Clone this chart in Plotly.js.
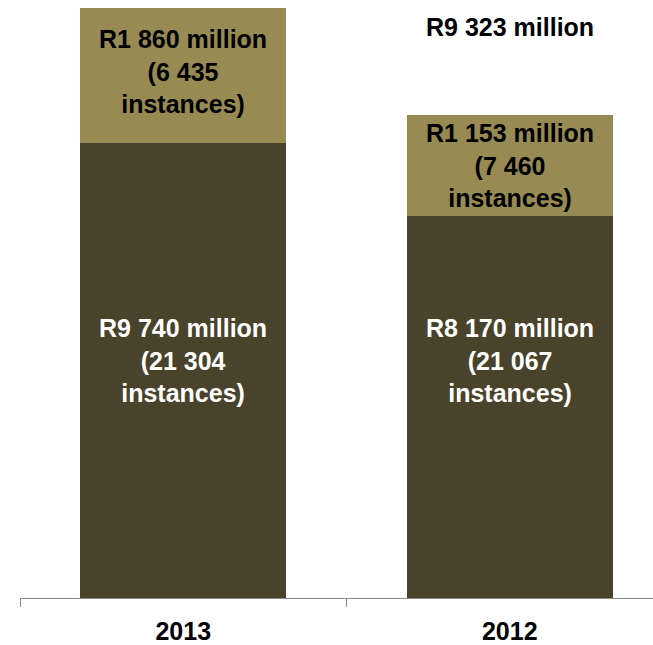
<!DOCTYPE html>
<html>
<head>
<meta charset="utf-8">
<script src="https://cdn.plot.ly/plotly-3.0.1.min.js"></script>
<style>
html,body{margin:0;padding:0;overflow:hidden;background:#fff;}
#chart{width:673px;height:645px;}
</style>
</head>
<body>
<div id="chart"></div>
<script>
// Categories (years)
var years = ['2013', '2012'];
// Bar segment heights as drawn in the picture
var lowerValues = [9740, 8170];
var upperValues = [2890, 2170];
// Labels
var lowerLabels = ['R9 740 million<br>(21 304<br>instances)', 'R8 170 million<br>(21 067<br>instances)'];
var upperLabels = ['R1 860 million<br>(6 435<br>instances)', 'R1 153 million<br>(7 460<br>instances)'];
var totalLabel = 'R9 323 million';
var totalLabelIndex = 1;

var FONT = '"Liberation Sans Narrow", "Arial Narrow", "Liberation Sans", Arial, sans-serif';
var darkColor = '#4A432B';
var lightColor = '#978B53';

var traces = [
  {type: 'bar', x: years, y: lowerValues, marker: {color: darkColor, line: {width: 0}}, hoverinfo: 'none'},
  {type: 'bar', x: years, y: upperValues, marker: {color: lightColor, line: {width: 0}}, hoverinfo: 'none'}
];

var annotations = [];
for (var i = 0; i < years.length; i++) {
  annotations.push({
    x: i, y: 5080, xref: 'x', yref: 'y', text: '<b>' + lowerLabels[i] + '</b>',
    showarrow: false, font: {family: FONT, size: 25, color: '#ffffff'}, align: 'center'
  });
  annotations.push({
    x: i, y: lowerValues[i] + upperValues[i] / 2, xref: 'x', yref: 'y', text: '<b>' + upperLabels[i] + '</b>',
    showarrow: false, font: {family: FONT, size: 25, color: '#000000'}, align: 'center',
    yshift: i === 0 ? 4 : 0
  });
}
annotations.push({
  x: totalLabelIndex, y: 12220, xref: 'x', yref: 'y', text: '<b>' + totalLabel + '</b>',
  showarrow: false, font: {family: FONT, size: 25, color: '#000000'}, align: 'center'
});

var layout = {
  width: 673, height: 645,
  margin: {l: 20, r: 0, t: 8, b: 47},
  barmode: 'stack',
  bargap: 0.37,
  showlegend: false,
  paper_bgcolor: '#ffffff',
  plot_bgcolor: '#ffffff',
  font: {family: FONT},
  xaxis: {
    type: 'category', range: [-0.5, 1.5], autorange: false,
    showline: true, linecolor: '#8c8c8c', linewidth: 1,
    ticks: 'outside', tickson: 'boundaries', ticklen: 8, tickcolor: '#8c8c8c', tickwidth: 1,
    showgrid: false, zeroline: false,
    tickfont: {family: FONT, size: 25, color: '#000000', weight: 'bold'},
    ticklabelstandoff: 11
  },
  yaxis: {
    range: [0, 12630], autorange: false, visible: false, showgrid: false, zeroline: false
  },
  annotations: annotations
};

Plotly.newPlot('chart', traces, layout, {displayModeBar: false, staticPlot: true});
</script>
</body>
</html>
